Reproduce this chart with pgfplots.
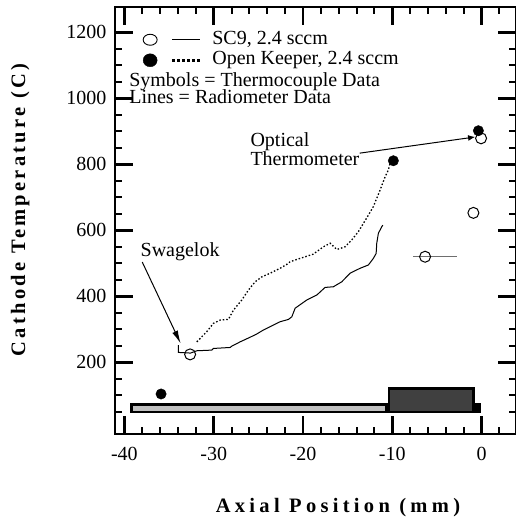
\documentclass[border=0pt]{standalone}
\usepackage{fontspec}
\setmainfont{Liberation Serif}
\newfontfamily\xlabfont[LetterSpace=21]{Liberation Serif}
\newfontfamily\ylabfont[LetterSpace=16]{Liberation Serif}
\usepackage{pgfplots}
\pgfplotsset{compat=1.18}
\usetikzlibrary{arrows.meta}
\definecolor{lightbar}{RGB}{192,192,192}
\definecolor{darkbar}{RGB}{64,64,64}
\definecolor{errgray}{RGB}{110,110,110}
\begin{document}
\begin{tikzpicture}
\path[use as bounding box] (-115pt,-89pt) rectangle (401pt,434pt);
\begin{axis}[
 at={(0,0)}, anchor=south west,
 scale only axis, width=401pt, height=427pt,
 xmin=-41.05, xmax=3.85, ymin=-17.3, ymax=1277,
 xtick={-40,-30,-20,-10,0}, xticklabels={-40,-30,-20,-10,0},
 minor xtick={-38,-36,...,2},
 ytick={200,400,600,800,1000,1200}, yticklabels={200,400,600,800,1000,1200},
 minor ytick={50,100,...,1150},
 tick align=inside, xtick pos=both, ytick pos=both,
 xticklabel pos=lower, yticklabel pos=left,
 major tick length=18pt, minor tick length=7pt,
 every major tick/.append style={line width=2.4pt, black},
 every minor tick/.append style={line width=2pt, black},
 axis line style={line width=2.8pt},
 tick label style={font=\fontsize{20}{22}\selectfont},
 yticklabel style={xshift=-5pt},
 xticklabel style={yshift=-10pt},
 xlabel={Axial Position (mm)}, ylabel={Cathode Temperature (C)},
 xlabel style={font=\xlabfont\bfseries\fontsize{20.5}{22}\selectfont, at={(axis description cs:0.556,-0.185)}, anchor=base},
 ylabel style={font=\ylabfont\bfseries\fontsize{20.5}{22}\selectfont, at={(axis description cs:-0.2244,0.5246)}, anchor=base},
 clip=false,
 legend style={at={(axis description cs:0.0686,0.946)}, anchor=north west, draw=none, fill=none,
   inner sep=0pt, row sep=1.5pt, font=\fontsize{20}{22}\selectfont,
   nodes={inner sep=0pt, text height=14pt, text depth=5pt}},
 legend cell align=left,
]
\addlegendimage{legend image code/.code={\draw[line width=0.9pt] (7pt,0pt) ellipse[x radius=7pt, y radius=5.5pt]; \draw[line width=0.9pt] (29pt,0pt) -- (57pt,0pt); \path (69pt,0pt);}}
\addlegendentry{SC9, 2.4 sccm}
\addlegendimage{legend image code/.code={\fill (7pt,0pt) ellipse[x radius=7pt, y radius=6.5pt]; \draw[line width=2.5pt, dash pattern=on 3pt off 2pt] (29pt,0pt) -- (57pt,0pt); \path (69pt,0pt);}}
\addlegendentry{Open Keeper, 2.4 sccm}

% cathode / keeper geometry
\addplot[fill=black, draw=none, forget plot] coordinates {(-0.73,45.5)(-0.06,45.5)(-0.06,75.7)(-0.73,75.7)} -- cycle;
\addplot[fill=darkbar, draw=black, line width=2.7pt, forget plot] coordinates {(-10.36,49.4)(-0.88,49.4)(-0.88,120)(-10.36,120)} -- cycle;
\addplot[fill=lightbar, draw=black, line width=2.7pt, forget plot] coordinates {(-39.2,49.5)(-10.64,49.5)(-10.64,71.5)(-39.2,71.5)} -- cycle;

% SC9 radiometer (solid)
\addplot[black, line width=1pt, forget plot] coordinates {
(-33.95,252)(-33.95,230)(-32.6,228)(-31.89,235)(-30.21,237)(-30.03,242)(-28.16,245)(-27.97,249)
(-27.04,262)(-25.92,276)(-25.17,286)(-24.43,298)(-23.68,308)(-22.93,318)(-22.56,323)(-21.63,330)
(-21.25,338)(-20.88,364)(-19.57,389)(-18.45,404)(-17.53,427)(-16.6,429)(-15.66,444)(-14.73,470)
(-13.61,485)(-12.68,495)(-12.12,515)(-11.81,530)(-11.74,561)(-11.56,591)(-11.18,611)(-11.06,616)};

% Open keeper radiometer (dotted)
\addplot[black, line width=1.3pt, dash pattern=on 1.5pt off 2pt, forget plot] coordinates {
(-31.89,262)(-30.77,293)(-30.03,318)(-29.28,328)(-28.35,330)(-27.79,358)(-26.85,389)(-26.11,419)
(-25.36,444)(-24.61,459)(-23.68,470)(-22.56,485)(-21.63,500)(-21.44,505)(-20.32,515)(-18.84,528)
(-17.72,550)(-16.96,561)(-16.21,542)(-15.29,550)(-14.54,571)(-13.80,596)(-13.24,621)(-12.68,646)
(-12.12,672)(-11.37,722)(-10.81,762)(-10.44,783)(-10.25,803)};

% thermocouple position range
\addplot[errgray, line width=1.5pt, forget plot] coordinates {(-7.64,520)(-2.78,520)};

% SC9 thermocouple (open)
\addplot[only marks, mark=o, mark size=5.5pt, mark options={fill=white, line width=1pt}, forget plot] coordinates {
(-32.64,224)(-6.33,520)(-0.92,653)(-0.06,879)};
% Open keeper thermocouple (filled)
\addplot[only marks, mark=*, mark size=5.2pt, forget plot] coordinates {
(-0.36,902)(-9.88,811)(-35.89,104)};

\node[anchor=base west, inner sep=0pt, text height=13pt, text depth=0pt, font=\fontsize{20}{22}\selectfont] at (axis cs:-39.47,1037) {Symbols = Thermocouple Data};
\node[anchor=base west, inner sep=0pt, text height=13pt, text depth=0pt, font=\fontsize{20}{22}\selectfont] at (axis cs:-39.47,983) {Lines = Radiometer Data};
\node[anchor=base west, inner sep=0pt, font=\fontsize{20}{22}\selectfont] at (axis cs:-38.2,520) {Swagelok};
\node[anchor=base west, inner sep=0pt, text height=13pt, text depth=0pt, font=\fontsize{20}{22}\selectfont] at (axis cs:-25.9,853) {Optical};
\node[anchor=base west, inner sep=0pt, font=\fontsize{20}{22}\selectfont] at (axis cs:-25.9,796) {Thermometer};
\draw[line width=1pt, -{Latex[length=13pt,width=6pt]}] (axis cs:-38.0,504) -- (axis cs:-33.7,257);
\draw[line width=1pt, -{Latex[length=7pt,width=6pt]}] (axis cs:-13.65,834) -- (axis cs:-0.73,883);
\end{axis}
\end{tikzpicture}
\end{document}
